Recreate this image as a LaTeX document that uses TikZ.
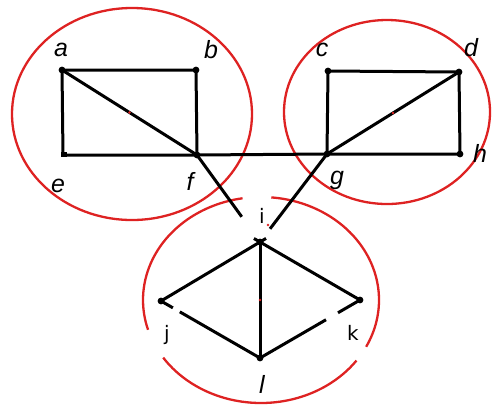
\documentclass[tikz,border=0pt]{standalone}
\usepackage{fontspec}
\setmainfont{Liberation Sans}
\newfontfamily\dvs{DejaVu Sans}
\usetikzlibrary{calc}
\definecolor{ringred}{RGB}{222,34,34}
\begin{document}
\begin{tikzpicture}[x=1bp,y=-1bp,
  edge/.style={line width=3bp, black},
  ring/.style={line width=2.3bp, draw=ringred},
  lab/.style={font=\fontsize{25}{28}\selectfont\itshape, inner sep=0pt},
  labup/.style={font=\dvs\fontsize{20}{23}\selectfont, inner sep=0pt}]
\useasboundingbox (0,0) rectangle (493,404);
% vertices
\coordinate (a) at (62,70);
\coordinate (b) at (196,70);
\coordinate (e) at (63,155);
\coordinate (f) at (197,155);
\coordinate (c) at (328,71);
\coordinate (d) at (459,72);
\coordinate (g) at (327,154);
\coordinate (h) at (460,154);
\coordinate (i) at (260,242);
\coordinate (j) at (161,301);
\coordinate (k) at (360,300);
\coordinate (l) at (260,358);
% ellipse centres
\coordinate (c1) at (132,114);
\coordinate (c2) at (387,112);
\coordinate (c3) at (261,300);
% red rings
\draw[ring] (c1) ellipse [x radius=120bp, y radius=106bp];
\draw[ring] (c2) ellipse [x radius=103bp, y radius=92bp];
\draw[ring] ($(c3)+(99:118bp and 103bp)$) arc[start angle=99, end angle=196.8, x radius=118bp, y radius=103bp];
\draw[ring] ($(c3)+(214:118bp and 103bp)$) arc[start angle=214, end angle=324, x radius=118bp, y radius=103bp];
\draw[ring] ($(c3)+(333:118bp and 103bp)$) arc[start angle=333, end angle=445, x radius=118bp, y radius=103bp];
% edges
\draw[edge] (a) -- (b) -- (f);
\draw[edge] (a) -- (e) -- (f);
\draw[edge] (a) -- (f);
\draw[edge] (f) -- (g);
\draw[edge] (c) -- (d) -- (h) -- (g) -- (c);
\draw[edge] (g) -- (d);
\draw[edge] (f) -- ($(f)!0.71!(i)$);
\draw[edge] (g) -- ($(g)!0.85!(i)$);
\draw[edge, shorten <=-7bp] (i) -- (j);
\draw[edge, shorten <=-7bp] (i) -- (k);
\draw[edge] (i) -- (l);
\draw[edge] (j) -- ($(j)!0.12!(l)$);
\draw[edge] ($(j)!0.19!(l)$) -- (l);
\draw[edge] (k) -- ($(k)!0.22!(l)$);
\draw[edge] ($(k)!0.34!(l)$) -- (l);
% vertex dots
\foreach \v in {a,b,f,c,d,g,h,i,j,k,l} \fill (\v) circle (3.4bp);
\fill ($(e)+(-2.5,-3.5)$) rectangle ($(e)+(4,2)$);
% red centre marks
\fill[ringred] ($(a)!0.5!(f)$) circle (1.3bp);
\fill[ringred] ($(g)!0.5!(d)$) circle (1.3bp);
\fill[ringred] ($(i)!0.5!(l)$) circle (1.3bp);
% labels
\node[lab] (la) at (61,50) {a};
\node[lab] (lb) at (211,50) {b};
\node[lab] (lc) at (322,50) {c};
\node[lab] (ld) at (471,48) {d};
\node[lab] (le) at (58,186) {e};
\node[lab] (lf) at (190,181) {f};
\node[lab] (lg) at (337,180) {g};
\node[lab] (lh) at (480,153) {h};
\node[labup] (li) at (262,216) {i};
\fill[ringred] (268,225) circle (1.3bp);
\node[labup] (lj) at (167,335) {j};
\node[labup] (lk) at (353,333) {k};
\node[lab] (ll) at (262,384) {l};
\end{tikzpicture}
\end{document}
